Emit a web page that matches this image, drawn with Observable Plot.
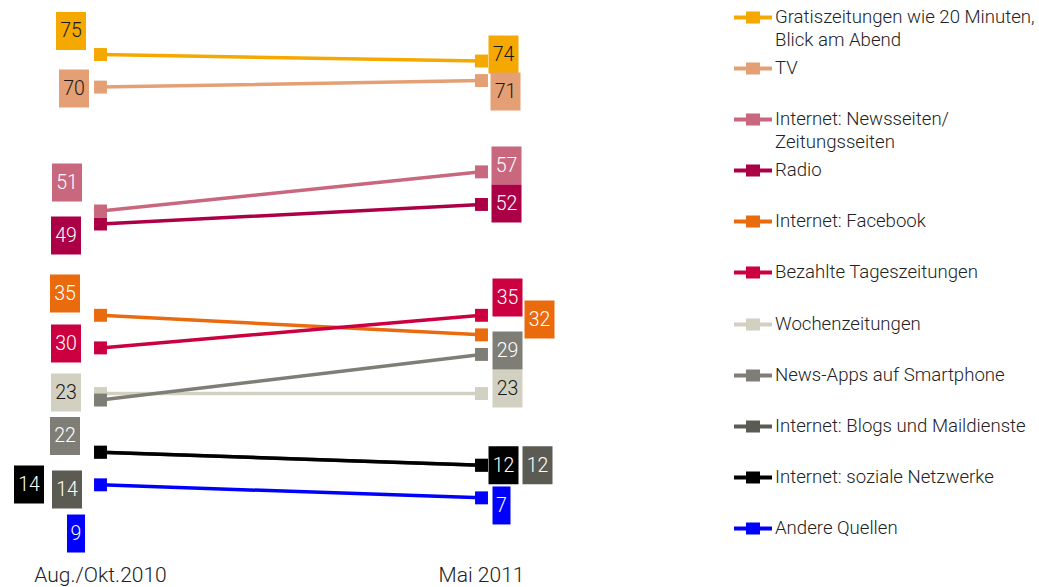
<!DOCTYPE html>
<html>
<head>
<meta charset="utf-8">
<script src="https://cdn.jsdelivr.net/npm/d3@7"></script>
<script src="https://cdn.jsdelivr.net/npm/@observablehq/plot@0.6"></script>
<style>
  html, body { margin: 0; padding: 0; background: #fff; }
  #wrap { position: relative; width: 1039px; height: 587px; overflow: hidden; font-family: Roboto, "Liberation Sans", sans-serif; }
  #chart { position: absolute; left: 0; top: 0; }
  #legend { position: absolute; left: 734px; top: 6px; color: #222; font-size: 18.6px; font-weight: 300; line-height: 23px; }
  .row { display: flex; align-items: flex-start; height: 51.1px; }
  .row svg { flex: none; margin-right: 3px; }
  .row span { white-space: pre; }
</style>
</head>
<body>
<div id="wrap">
  <div id="chart"></div>
  <div id="legend"></div>
</div>
<script>
// ---- data ----
const periods = ["Aug./Okt.2010", "Mai 2011"];
const series = [
  "Gratiszeitungen wie 20 Minuten,\nBlick am Abend",
  "TV",
  "Internet: Newsseiten/\nZeitungsseiten",
  "Radio",
  "Internet: Facebook",
  "Bezahlte Tageszeitungen",
  "Wochenzeitungen",
  "News-Apps auf Smartphone",
  "Internet: Blogs und Maildienste",
  "Internet: soziale Netzwerke",
  "Andere Quellen"
];
const values2010 = [75, 70, 51, 49, 35, 30, 23, 22, 14, 14, 9];
const values2011 = [74, 71, 57, 52, 32, 35, 23, 29, 12, 12, 7];
const colors = ["#F5A800", "#E4A074", "#C9677F", "#AC0046", "#EA6A0E", "#CC0040",
                "#D2D1C1", "#7E7E76", "#5B5B53", "#000000", "#0000FF"];
const labelTextColors = ["#1a1a1a", "#1a1a1a", "#fff", "#fff", "#fff", "#fff",
                         "#1a1a1a", "#fff", "#fff", "#fff", "#fff"];

// ---- label layout (pixel nudges from each end point, to avoid overlaps) ----
const nudge2010 = [[-29.5,-23.5],[-26.5,1.4],[-33.5,-28.5],[-34.5,11.5],[-35.5,-21.8],[-34.5,-4.4],
                   [-34.5,-1],[-35.5,36],[-33.5,37.3],[-71.5,32.3],[-24.5,48.7]];
const nudge2011 = [[22,-6.5],[24,11],[25,-6.4],[25,-1],[58,-15.4],[26,-17.8],
                   [26,-5],[26,-3.9],[56,0],[22,0],[20,7.6]];

const long = [];
series.forEach((s, i) => {
  long.push({series: s, period: periods[0], value: values2010[i], i, nudge: nudge2010[i]});
  long.push({series: s, period: periods[1], value: values2011[i], i, nudge: nudge2011[i]});
});

const boxSymbol = w => ({ draw(ctx) { ctx.rect(-w / 2, -19, w, 38); } });

const labelMarks = long.flatMap(d => {
  const w = String(d.value).length > 1 ? 30 : 18;
  return [
    Plot.dot([d], {x: "period", y: "value", dx: d.nudge[0], dy: d.nudge[1],
                   symbol: boxSymbol(w), fill: "series"}),
    Plot.text([d], {x: "period", y: "value", dx: d.nudge[0], dy: d.nudge[1],
                    text: v => String(v.value), fill: labelTextColors[d.i],
                    fontSize: 19.5, fontWeight: 300})
  ];
});

const chart = Plot.plot({
  width: 720,
  height: 587,
  marginTop: 0, marginLeft: 0, marginRight: 0, marginBottom: 20,
  style: {fontFamily: "Roboto, 'Liberation Sans', sans-serif", background: "transparent", color: "#222"},
  x: {type: "point", domain: periods, range: [99.5, 481], padding: 0},
  y: {domain: [0, 75], range: [543, 54], axis: null},
  color: {domain: series, range: colors},
  marks: [
    Plot.axisX({tickSize: 0, tickPadding: 0, fontSize: 21, fontWeight: 300, label: null}),
    Plot.line(long, {x: "period", y: "value", z: "series", stroke: "series", strokeWidth: 3.5}),
    Plot.dot(long, {x: "period", y: "value", symbol: "square", r: 7.3, fill: "series"}),
    ...labelMarks
  ]
});
document.getElementById("chart").appendChild(chart);

// ---- legend ----
const legend = d3.select("#legend");
series.forEach((s, i) => {
  const row = legend.append("div").attr("class", "row");
  const sv = row.append("svg").attr("width", 38).attr("height", 23);
  sv.append("line").attr("x1", 0).attr("x2", 38).attr("y1", 11.5).attr("y2", 11.5)
    .attr("stroke", colors[i]).attr("stroke-width", 4);
  sv.append("rect").attr("x", 12).attr("y", 5.5).attr("width", 14).attr("height", 12).attr("fill", colors[i]);
  row.append("span").text(s);
});
</script>
</body>
</html>
